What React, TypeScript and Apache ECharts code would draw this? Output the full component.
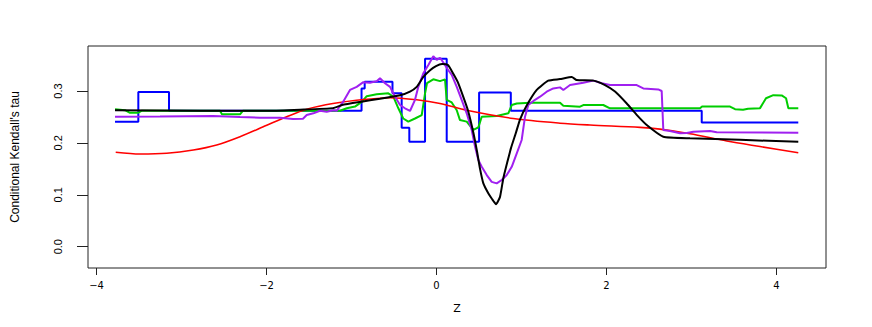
import React, { useEffect, useRef } from "react";
import * as echarts from "echarts";

const xTicks = [-4, -2, 0, 2, 4];
const yTicks = [0, 0.1, 0.2, 0.3];

const blackX = [-3.782, -2.782, -1.959, -1.606, -1.218, -1.112, -0.9, -0.665, -0.429, -0.312, -0.233, -0.155, -0.076, -0.006, 0.065, 0.135, 0.194, 0.253, 0.312, 0.371, 0.433, 0.476, 0.512, 0.551, 0.609, 0.653, 0.7, 0.747, 0.786, 0.833, 0.876, 0.935, 0.982, 1.061, 1.179, 1.315, 1.453, 1.591, 1.649, 1.845, 1.982, 2.1, 2.238, 2.355, 2.473, 2.668, 2.982, 3.571, 4.256];
const blackY = [0.263, 0.262, 0.262, 0.264, 0.267, 0.273, 0.279, 0.285, 0.292, 0.299, 0.308, 0.327, 0.34, 0.348, 0.352, 0.35, 0.334, 0.316, 0.29, 0.262, 0.22, 0.184, 0.15, 0.122, 0.103, 0.092, 0.082, 0.096, 0.132, 0.163, 0.19, 0.22, 0.245, 0.272, 0.302, 0.32, 0.323, 0.327, 0.321, 0.32, 0.3115, 0.299, 0.276, 0.254, 0.2345, 0.212, 0.209, 0.206, 0.202];

const redX = [-3.774, -3.488, -3.174, -2.861, -2.586, -2.312, -2.038, -1.762, -1.527, -1.218, -0.821, -0.547, -0.233, 0.041, 0.355, 0.904, 1.453, 1.806, 2.394, 2.629, 2.982, 3.414, 3.806, 4.256];
const redY = [0.182, 0.1786, 0.18, 0.1863, 0.196, 0.212, 0.231, 0.2505, 0.265, 0.276, 0.284, 0.287, 0.283, 0.276, 0.263, 0.247, 0.238, 0.2345, 0.23, 0.2265, 0.2175, 0.2037, 0.193, 0.181];

const blueX = [-3.782, -3.508, -3.147, -0.882, -0.845, -0.518, -0.41, -0.32, -0.135, 0.12, 0.501, 0.874, 3.12, 4.256];
const blueY = [0.241, 0.298, 0.262, 0.305, 0.318, 0.2955, 0.229, 0.202, 0.362, 0.202, 0.297, 0.262, 0.2395, 0.2395];

const greenX = [-3.782, -3.665, -3.606, -3.512, -3.465, -2.547, -2.524, -2.312, -2.276, -1.135, -1.056, -0.959, -0.88, -0.821, -0.704, -0.567, -0.508, -0.449, -0.391, -0.332, -0.253, -0.174, -0.135, -0.112, -0.038, 0.041, 0.1, 0.12, 0.179, 0.238, 0.276, 0.355, 0.433, 0.492, 0.532, 0.708, 0.845, 0.885, 0.944, 1.1, 1.453, 1.492, 1.688, 1.727, 1.962, 2.041, 3.1, 3.124, 3.453, 3.512, 3.606, 3.665, 3.806, 3.876, 3.962, 4.061, 4.112, 4.139, 4.256];
const greenY = [0.265, 0.263, 0.258, 0.258, 0.262, 0.262, 0.255, 0.255, 0.262, 0.262, 0.2667, 0.27, 0.279, 0.29, 0.2936, 0.2955, 0.289, 0.2667, 0.247, 0.241, 0.247, 0.2537, 0.2955, 0.315, 0.3225, 0.319, 0.3225, 0.283, 0.278, 0.263, 0.244, 0.241, 0.225, 0.23, 0.2505, 0.2518, 0.257, 0.273, 0.276, 0.2775, 0.2775, 0.2717, 0.2697, 0.273, 0.273, 0.2667, 0.2667, 0.27, 0.27, 0.265, 0.264, 0.266, 0.267, 0.286, 0.292, 0.2915, 0.286, 0.2667, 0.2667];

const purpleX = [-3.782, -3.253, -2.629, -2.312, -2.076, -1.841, -1.688, -1.571, -1.527, -1.449, -1.371, -1.292, -1.214, -1.174, -1.096, -1.018, -0.939, -0.861, -0.782, -0.704, -0.665, -0.606, -0.547, -0.488, -0.429, -0.371, -0.312, -0.253, -0.214, -0.155, -0.096, -0.038, 0.002, 0.041, 0.08, 0.139, 0.179, 0.238, 0.296, 0.355, 0.414, 0.453, 0.492, 0.532, 0.591, 0.649, 0.708, 0.767, 0.826, 0.885, 0.944, 1.002, 1.041, 1.08, 1.159, 1.218, 1.296, 1.374, 1.453, 1.492, 1.571, 1.727, 1.845, 1.944, 2.041, 2.355, 2.433, 2.609, 2.649, 2.668, 2.747, 2.865, 2.944, 3.021, 3.218, 3.296, 4.256];
const purpleY = [0.2505, 0.251, 0.252, 0.25, 0.2486, 0.2485, 0.246, 0.2465, 0.2537, 0.257, 0.262, 0.26, 0.263, 0.262, 0.28, 0.302, 0.308, 0.317, 0.316, 0.319, 0.3245, 0.315, 0.308, 0.289, 0.273, 0.2667, 0.2615, 0.283, 0.308, 0.334, 0.35, 0.367, 0.36, 0.364, 0.355, 0.34, 0.331, 0.308, 0.283, 0.257, 0.225, 0.193, 0.167, 0.154, 0.138, 0.125, 0.122, 0.1285, 0.138, 0.154, 0.18, 0.2056, 0.2505, 0.273, 0.283, 0.289, 0.2987, 0.305, 0.307, 0.302, 0.3115, 0.316, 0.32, 0.315, 0.3115, 0.3115, 0.305, 0.303, 0.3, 0.225, 0.223, 0.2185, 0.219, 0.2216, 0.223, 0.2204, 0.2197];

const zip = (xs: number[], ys: number[]) => xs.map((x, i) => [x, ys[i]]);

const narrow = "'Liberation Sans Narrow', 'Liberation Sans', Arial, sans-serif";
const wide = "'DejaVu Sans', sans-serif";

export default function App() {
  const ref = useRef<HTMLDivElement>(null);
  useEffect(() => {
    if (!ref.current) return;
    const chart = echarts.init(ref.current, undefined, { renderer: "svg" });
    chart.setOption({
      animation: false,
      backgroundColor: "#ffffff",
      grid: {
        left: 88,
        top: 46,
        width: 738,
        height: 222,
        show: true,
        borderColor: "#222",
        borderWidth: 1,
        backgroundColor: "transparent",
      },
      xAxis: {
        type: "value",
        min: -4.1,
        max: 4.582,
        axisLine: { show: false, onZero: false },
        splitLine: { show: false },
        axisTick: { show: true, length: 7, customValues: xTicks, lineStyle: { color: "#222" } },
        axisLabel: {
          customValues: xTicks,
          margin: 12,
          color: "#000",
          fontFamily: wide,
          fontSize: 10,
          formatter: (v: number) => (v < 0 ? "\u2212" + Math.abs(v) : String(v)),
        },
        name: "Z",
        nameLocation: "middle",
        nameGap: 35,
        nameTextStyle: { color: "#000", fontFamily: wide, fontSize: 11 },
      },
      yAxis: {
        type: "value",
        min: -0.041,
        max: 0.3867,
        axisLine: { show: false, onZero: false },
        splitLine: { show: false },
        axisTick: { show: true, length: 11, customValues: yTicks, lineStyle: { color: "#222" } },
        axisLabel: {
          customValues: yTicks,
          rotate: 90,
          margin: 25,
          color: "#000",
          fontFamily: narrow,
          fontSize: 11,
          formatter: (v: number) => v.toFixed(1),
        },
        name: "Conditional Kendall's tau",
        nameLocation: "middle",
        nameRotate: 90,
        nameGap: 67,
        nameTextStyle: { color: "#000", fontFamily: narrow, fontSize: 12 },
      },
      series: [
        { type: "line", data: zip(blueX, blueY), step: "end", showSymbol: false, lineStyle: { color: "#0000FF", width: 2 }, z: 2 },
        { type: "line", data: zip(greenX, greenY), showSymbol: false, lineStyle: { color: "#00CD00", width: 2 }, z: 3 },
        { type: "line", data: zip(redX, redY), smooth: 0.3, showSymbol: false, lineStyle: { color: "#FF0000", width: 1.6 }, z: 4 },
        { type: "line", data: zip(purpleX, purpleY), showSymbol: false, lineStyle: { color: "#A020F0", width: 2 }, z: 5 },
        { type: "line", data: zip(blackX, blackY), smooth: 0.15, showSymbol: false, lineStyle: { color: "#000000", width: 2 }, z: 6 },
      ],
    });
    return () => chart.dispose();
  }, []);
  return (
    <div
      ref={ref}
      style={{ position: "fixed", left: 0, top: 0, width: 872, height: 327, background: "#fff" }}
    />
  );
}
